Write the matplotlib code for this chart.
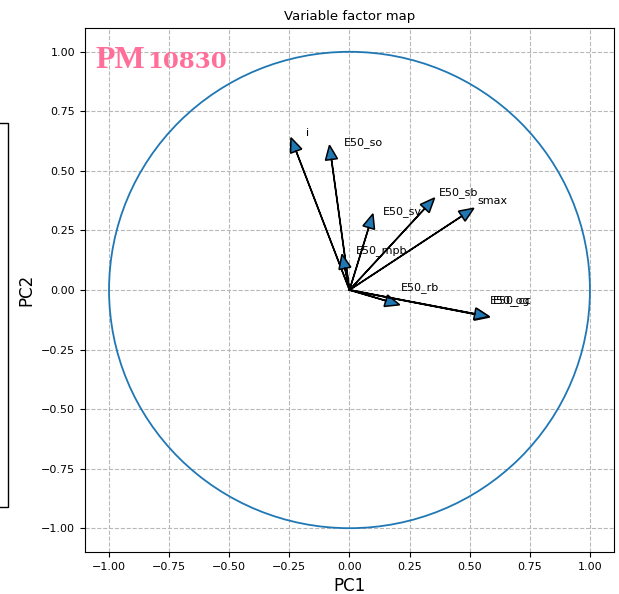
import matplotlib
matplotlib.use("Agg")
import matplotlib.pyplot as plt
from matplotlib.patches import Circle, Rectangle

# loadings (head base of each arrow)
variables = ['i', 'E50_so', 'E50_sv', 'E50_sb', 'smax', 'E50_mpb', 'E50_rb', 'E50_og', 'E50_cc']
pc1 = [-0.222, -0.075, 0.080, 0.313, 0.467, -0.019, 0.151, 0.524, 0.521]
pc2 = [0.583, 0.548, 0.262, 0.342, 0.310, 0.091, -0.045, -0.102, -0.100]

# where the names were written
label_x = [-0.179, -0.025, 0.139, 0.371, 0.531, 0.025, 0.212, 0.583, 0.596]
label_y = [0.646, 0.608, 0.317, 0.400, 0.362, 0.155, 0.000, -0.053, -0.053]

ticks = [-1.0, -0.75, -0.5, -0.25, 0.0, 0.25, 0.5, 0.75, 1.0]

fig = plt.figure(figsize=(6.19, 5.94), dpi=100)
ax = fig.add_axes([0.1373, 0.0707, 0.8546, 0.8822])

ax.add_patch(Circle((0, 0), 1.0, fill=False, color='tab:blue', lw=1.3))

for k in range(len(variables)):
    ax.arrow(0, 0, pc1[k], pc2[k], head_width=0.05, head_length=0.06,
             fc='tab:blue', ec='k', lw=1.1, zorder=3)
    ax.text(label_x[k], label_y[k], variables[k], fontsize=8, zorder=4)

# station name, caps and smaller figures
ax.text(-1.055, 0.93, 'PM', color='#ff6f9a', fontsize=23,
        fontweight='bold', family='Liberation Serif')
ax.text(-0.842, 0.93, '10830', color='#ff6f9a', fontsize=16.5,
        fontweight='bold', family='DejaVu Serif')

ax.set_xlim(-1.1, 1.1)
ax.set_ylim(-1.1, 1.1)
ax.set_xticks(ticks)
ax.set_yticks(ticks)
ax.tick_params(labelsize=8)
ax.grid(True, linestyle='--', color='#b8b8b8', lw=0.8)
ax.set_axisbelow(True)
ax.set_title('Variable factor map', fontsize=9.5)
ax.set_xlabel('PC1', fontsize=12)
ax.set_ylabel('PC2', fontsize=12)

# stray box at the left edge
fig.add_artist(Rectangle((-0.01, 0.1465), 0.023, 0.6465, transform=fig.transFigure,
                         fill=False, ec='k', lw=1.0, clip_on=False))

plt.savefig('out.png', dpi=100)
